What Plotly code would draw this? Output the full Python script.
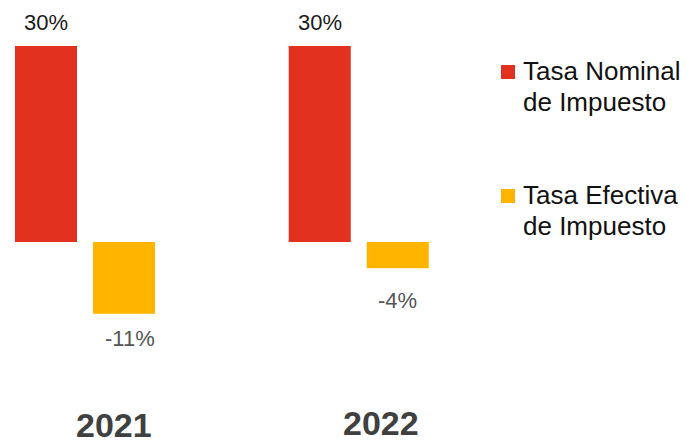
import plotly.graph_objects as go

# Tax rates by year (%)
years = ["2021", "2022"]
series_names = ["Tasa Nominal<br>de Impuesto", "Tasa Efectiva<br>de Impuesto"]
nominal_rate = [30, 30]
effective_rate = [-11, -4]
series_colors = ["#E2321F", "#FFB500"]

W, H = 687, 443
FONT = "Liberation Sans, Arial, sans-serif"

fig = go.Figure()
for name, vals, color in zip(series_names, [nominal_rate, effective_rate], series_colors):
    fig.add_trace(go.Bar(
        x=years, y=vals, name=name.replace("<br>", " "),
        marker=dict(color=color, line=dict(width=0)),
        showlegend=False, hoverinfo="skip",
    ))

annotations = []

# value labels: (xshift, yshift, color) per series and year
label_style = [
    [(-39, 24, "#1a1a1a"), (-39, 24, "#1a1a1a")],
    [(45, -25, "#555555"), (39, -32, "#555555")],
]
for s, vals in enumerate([nominal_rate, effective_rate]):
    for i, v in enumerate(vals):
        dx, dy, col = label_style[s][i]
        annotations.append(dict(
            x=i, y=v, xref="x", yref="y",
            text=f"{v}%", showarrow=False,
            xanchor="center", yanchor="middle",
            xshift=dx, yshift=dy,
            font=dict(family=FONT, size=22, color=col),
        ))

# year labels below the bars
year_shift = [(29, -183), (22, -181)]
for i, yr in enumerate(years):
    dx, dy = year_shift[i]
    annotations.append(dict(
        x=i, y=0, xref="x", yref="y",
        text=f"<b>{yr}</b>", showarrow=False,
        xanchor="center", yanchor="middle",
        xshift=dx, yshift=dy,
        font=dict(family=FONT, size=34, color="#404040"),
    ))

# legend built from swatches and two-line captions
shapes = []
legend_rows = [72, 196]
for name, color, cy in zip(series_names, series_colors, legend_rows):
    shapes.append(dict(
        type="rect", xref="paper", yref="paper",
        x0=501 / W, x1=515 / W, y0=1 - (cy + 7) / H, y1=1 - (cy - 7) / H,
        fillcolor=color, line=dict(width=0),
    ))
    for k, line in enumerate(name.split("<br>")):
        annotations.append(dict(
            x=521 / W, y=1 - (cy - 1 + 31 * k) / H, xref="paper", yref="paper",
            text=line, showarrow=False, xanchor="left", yanchor="middle",
            font=dict(family=FONT, size=26, color="#111111"),
        ))

unit = 273.75          # px per category
plot_w = W * 0.7
x0 = -85 / unit
px_per_pct = 196 / 30
fig.update_layout(
    width=W, height=H,
    margin=dict(l=0, r=0, t=0, b=0),
    paper_bgcolor="white", plot_bgcolor="white",
    barmode="group", bargap=0.43, bargroupgap=0.205,
    xaxis=dict(type="category", domain=[0, 0.7], range=[x0, x0 + plot_w / unit],
               showticklabels=False, showgrid=False, zeroline=False,
               showline=False, ticks=""),
    yaxis=dict(range=[-(H - 242) / px_per_pct, 242 / px_per_pct],
               showticklabels=False, showgrid=False, zeroline=False,
               showline=False, ticks=""),
    annotations=annotations, shapes=shapes,
)

fig.write_html("out.html")
